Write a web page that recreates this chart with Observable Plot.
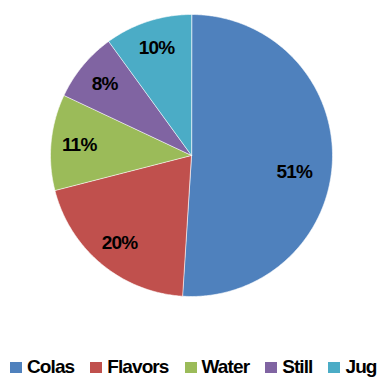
<!DOCTYPE html>
<html>
<head>
<meta charset="utf-8">
<script src="https://cdn.jsdelivr.net/npm/d3@7"></script>
<script src="https://cdn.jsdelivr.net/npm/@observablehq/plot@0.6"></script>
<style>
  html, body { margin: 0; padding: 0; background: #fff; }
  body { width: 382px; height: 377px; overflow: hidden; position: relative; font-family: "Liberation Sans", Arial, sans-serif; }
  #chart { position: absolute; left: 0; top: 0; }
  #chart svg text { letter-spacing: -0.8px; }
  #legend { position: absolute; left: 10px; top: 357px; display: flex; align-items: center; height: 19px; line-height: 19px; font-weight: bold; font-size: 19px; letter-spacing: -0.9px; color: #000; }
  .item { display: flex; align-items: center; margin-right: 16px; white-space: nowrap; }
  .sw { width: 12px; height: 11px; margin-right: 5px; margin-top: 1px; }
</style>
</head>
<body>
<div id="chart"></div>
<div id="legend"></div>
<script>
const categories = ["Colas", "Flavors", "Water", "Still", "Jug"];
const shares = [51, 20, 11, 8, 10];
const colors = ["#4F81BD", "#C0504D", "#9BBB59", "#8064A2", "#4BACC6"];
const labels = ["51%", "20%", "11%", "8%", "10%"];

const data = categories.map((c, i) => ({category: c, value: shares[i], label: labels[i]}));
const arcs = d3.pie().sort(null).value(d => d.value)(data);

// Build slice outlines in unit-circle data coordinates
const slicePts = [];
arcs.forEach(a => {
  const n = Math.max(2, Math.ceil((a.endAngle - a.startAngle) / 0.01));
  slicePts.push({category: a.data.category, x: 0, y: 0});
  for (let k = 0; k <= n; k++) {
    const t = a.startAngle + (a.endAngle - a.startAngle) * k / n;
    slicePts.push({category: a.data.category, x: Math.sin(t), y: Math.cos(t)});
  }
});
const labelPts = arcs.map((a, i) => {
  const m = (a.startAngle + a.endAngle) / 2;
  return {label: a.data.label, first: i === 0, x: 0.8 * Math.sin(m), y: 0.8 * Math.cos(m)};
});

const font = "Liberation Sans, Arial, sans-serif";
const chart = Plot.plot({
  width: 382,
  height: 335,
  marginLeft: 50,
  marginRight: 50,
  marginTop: 14,
  marginBottom: 39,
  x: {domain: [-1, 1], axis: null},
  y: {domain: [-1, 1], axis: null},
  color: {domain: categories, range: colors},
  style: {fontFamily: font, background: "#fff"},
  marks: [
    Plot.line(slicePts, {x: "x", y: "y", z: "category", fill: "category", stroke: "#fff", strokeWidth: 0.6, curve: "linear-closed"}),
    Plot.text(labelPts.filter(d => !d.first), {x: "x", y: "y", text: "label", fontSize: 19, fontWeight: "bold", fill: "#000"}),
    Plot.text(labelPts.filter(d => d.first), {x: "x", y: "y", text: "label", fontSize: 19, fontWeight: "bold", fill: "#000", dx: -10, dy: 13})
  ]
});
document.getElementById("chart").appendChild(chart);

const legend = document.getElementById("legend");
categories.forEach((c, i) => {
  const it = document.createElement("div");
  it.className = "item";
  const sw = document.createElement("div");
  sw.className = "sw";
  sw.style.background = colors[i];
  const tx = document.createElement("span");
  tx.textContent = c;
  it.appendChild(sw);
  it.appendChild(tx);
  legend.appendChild(it);
});
</script>
</body>
</html>
